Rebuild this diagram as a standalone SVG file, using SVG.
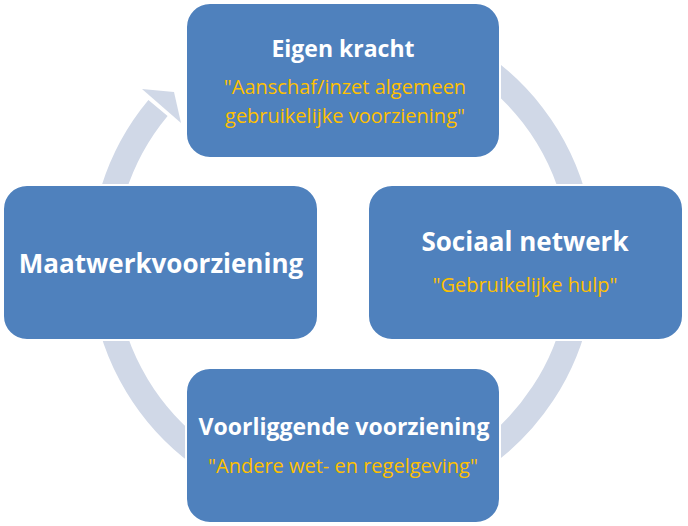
<svg xmlns="http://www.w3.org/2000/svg" width="688" height="526" viewBox="0 0 688 526">
<style>
.box{fill:#4F81BD;stroke:#fff;stroke-width:2}
.t{font-family:"Open Sans","Liberation Sans",sans-serif;font-weight:bold;fill:#fff;text-anchor:middle}
.s{font-family:"Open Sans","Liberation Sans",sans-serif;font-size:20px;fill:#FFC000;text-anchor:middle}
</style>
<rect width="688" height="526" fill="#fff"/>
<g id="connectors">
<path d="M463,54 A240,240 0 1 1 158,108" fill="none" stroke="#D0D8E7" stroke-width="25"/>
<polygon points="142,89 174,92 181,123" fill="#D0D8E7"/>
</g>
<g id="top"><rect class="box" x="186" y="3" width="314" height="155" rx="24"/>
<text class="t" x="343" y="57" font-size="23">Eigen kracht</text>
<text class="s" x="345" y="94">"Aanschaf/inzet algemeen</text>
<text class="s" x="345" y="123">gebruikelijke voorziening"</text></g>
<g id="right"><rect class="box" x="368" y="185" width="315" height="155" rx="24"/>
<text class="t" x="525" y="251" font-size="26">Sociaal netwerk</text>
<text class="s" x="525" y="292">"Gebruikelijke hulp"</text></g>
<g id="bottom"><rect class="box" x="186" y="368" width="314" height="155" rx="24"/>
<text class="t" x="344" y="435" font-size="23">Voorliggende voorziening</text>
<text class="s" x="343" y="473">"Andere wet- en regelgeving"</text></g>
<g id="left"><rect class="box" x="3" y="185" width="315" height="155" rx="24"/>
<text class="t" x="161" y="273" font-size="26">Maatwerkvoorziening</text></g>
</svg>
